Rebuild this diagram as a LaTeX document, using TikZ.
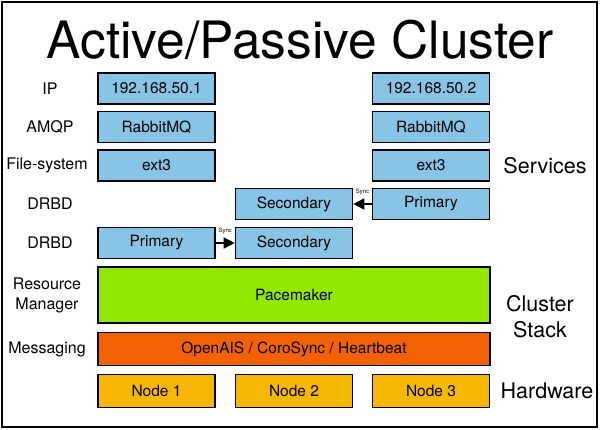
\documentclass[tikz,border=0pt]{standalone}
\usepackage{fontspec}
\setmainfont{TeX Gyre Heros}
\usetikzlibrary{arrows.meta}
\definecolor{svcblue}{RGB}{135,196,230}
\definecolor{pacegreen}{RGB}{146,232,0}
\definecolor{msgorange}{RGB}{242,98,0}
\definecolor{hwgold}{RGB}{246,184,0}
\tikzset{
	box/.style={draw=black, line width=1.6pt, minimum width=117pt, minimum height=31pt,
		inner sep=0pt, font=\fontsize{15.5}{17}\selectfont},
	svc/.style={box, fill=svcblue},
	lbl/.style={font=\fontsize{16}{20}\selectfont, align=center},
	side/.style={font=\fontsize{21.5}{26}\selectfont, align=center},
	sync/.style={-{Triangle[length=11pt,width=11pt]}, line width=1.6pt},
	synctext/.style={font=\fontsize{6}{7}\selectfont, inner sep=0pt}
}
\begin{document}
\begin{tikzpicture}[x=1pt,y=-1pt]
	\useasboundingbox (0,0) rectangle (600,430);
	\draw[line width=2pt] (2,2) rectangle (597,427);
	\node (title) at (300,40) {\fontsize{51.5}{54}\selectfont Active/Passive Cluster};

	% left labels
	\node[lbl] (lip) at (50,88.5) {IP};
	\node[lbl] (lamqp) at (50,127) {AMQP};
	\node[lbl] (lfs) at (47,165.5) {File-system};
	\node[lbl] (ldrbda) at (50,204) {DRBD};
	\node[lbl] (ldrbdb) at (50,243) {DRBD};
	\node[lbl] (lrm) at (47,295) {Resource\\Manager};
	\node[lbl] (lmsg) at (47,349) {Messaging};

	% right labels
	\node[side] (services) at (545,166) {Services};
	\node[side] (stack) at (540,317) {Cluster\\Stack};
	\node[side] (hardware) at (547,391) {Hardware};

	% services
	\node[svc] (ipa) at (156.5,88.5) {192.168.50.1};
	\node[svc] (ipb) at (431,88.5) {192.168.50.2};
	\node[svc] (mqa) at (156.5,127) {RabbitMQ};
	\node[svc] (mqb) at (431,127) {RabbitMQ};
	\node[svc] (fsa) at (156.5,165.5) {ext3};
	\node[svc] (fsb) at (431,165.5) {ext3};

	% drbd
	\node[svc] (seca) at (294,204) {Secondary};
	\node[svc] (pria) at (431,204) {Primary};
	\node[svc] (prib) at (156.5,243) {Primary};
	\node[svc] (secb) at (294,243) {Secondary};
	\draw[sync] (pria) -- (seca) node[synctext, midway, above=8pt] (synca) {Sync};
	\draw[sync] (prib) -- (secb) node[synctext, midway, above=8pt] (syncb) {Sync};

	% cluster stack
	\node[box, fill=pacegreen, minimum width=392pt, minimum height=56pt] (pace) at (294,295) {Pacemaker};
	\node[box, fill=msgorange, minimum width=392pt, minimum height=33pt] (msg) at (294,349) {OpenAIS / CoroSync / Heartbeat};

	% hardware
	\node[box, fill=hwgold, minimum height=33pt] (nodea) at (156.5,391) {Node 1};
	\node[box, fill=hwgold, minimum height=33pt] (nodeb) at (294,391) {Node 2};
	\node[box, fill=hwgold, minimum height=33pt] (nodec) at (431,391) {Node 3};
\end{tikzpicture}
\end{document}
